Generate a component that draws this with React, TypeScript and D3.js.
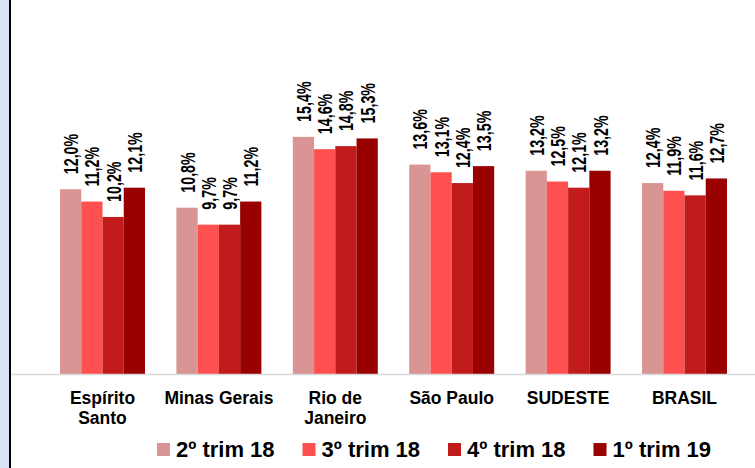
import React from 'react';
import * as d3 from 'd3';

const categories = ['Espírito Santo', 'Minas Gerais', 'Rio de Janeiro', 'São Paulo', 'SUDESTE', 'BRASIL'];
const categoryLines = [['Espírito', 'Santo'], ['Minas Gerais'], ['Rio de', 'Janeiro'], ['São Paulo'], ['SUDESTE'], ['BRASIL']];
const seriesNames = ['2º trim 18', '3º trim 18', '4º trim 18', '1º trim 19'];
const seriesColors = ['#d99594', '#ff5050', '#c21b1b', '#990000'];

const trim2_18 = [12.0, 10.8, 15.4, 13.6, 13.2, 12.4];
const trim3_18 = [11.2, 9.7, 14.6, 13.1, 12.5, 11.9];
const trim4_18 = [10.2, 9.7, 14.8, 12.4, 12.1, 11.6];
const trim1_19 = [12.1, 11.2, 15.3, 13.5, 13.2, 12.7];

const seriesValues = [trim2_18, trim3_18, trim4_18, trim1_19];

const W = 755;
const H = 468;
const baseline = 374;
const font = '"Liberation Sans", Arial, sans-serif';

export default function App() {
  const x0 = d3.scaleBand<string>()
    .domain(categories)
    .range([44.3, 742.7])
    .paddingInner(0.27)
    .paddingOuter(0.135);

  const x1 = d3.scaleBand<string>()
    .domain(seriesNames)
    .range([0, x0.bandwidth()])
    .padding(0);

  const y = d3.scaleLinear().domain([0, 24.29]).range([baseline, 0]);

  const fmt = (v: number) => v.toFixed(1).replace('.', ',') + '%';

  const legendStart = 157;
  const legendStep = 145.5;

  return (
    <div style={{ position: 'absolute', left: 0, top: 0 }}>
      <svg width={W} height={H} viewBox={`0 0 ${W} ${H}`} style={{ display: 'block', background: '#fff' }}>
        {/* left frame */}
        <rect x={0} y={0} width={9} height={H} fill="#dae3f3" />
        <rect x={9} y={0} width={2} height={H} fill="#000" />

        {/* bars */}
        {categories.map((cat, ci) => (
          <g key={cat} transform={`translate(${x0(cat)},0)`}>
            {seriesNames.map((s, si) => {
              const v = seriesValues[si][ci];
              const bx = x1(s) as number;
              return (
                <rect
                  key={s}
                  x={bx}
                  y={y(v)}
                  width={x1.bandwidth()}
                  height={baseline - y(v)}
                  fill={seriesColors[si]}
                />
              );
            })}
            {seriesNames.map((s, si) => {
              const v = seriesValues[si][ci];
              const cx = (x1(s) as number) + x1.bandwidth() / 2;
              return (
                <text
                  key={s}
                  transform={`translate(${cx},${y(v) - 15}) rotate(-90) scale(0.68,1)`}
                  dy="0.36em"
                  fontFamily={font}
                  fontWeight="bold"
                  fontSize={21}
                  fill="#000"
                >
                  {fmt(v)}
                </text>
              );
            })}
          </g>
        ))}

        {/* axis line */}
        <line x1={11} x2={W} y1={baseline + 0.5} y2={baseline + 0.5} stroke="#d9d9d9" strokeWidth={1.5} />

        {/* category labels */}
        {categories.map((cat, ci) => (
          <text
            key={cat}
            x={(x0(cat) as number) + x0.bandwidth() / 2}
            y={404}
            textAnchor="middle"
            fontFamily={font}
            fontWeight="bold"
            fontSize={17.5}
            fill="#000"
          >
            {categoryLines[ci].map((line, li) => (
              <tspan key={li} x={(x0(cat) as number) + x0.bandwidth() / 2} dy={li === 0 ? 0 : 20}>
                {line}
              </tspan>
            ))}
          </text>
        ))}

        {/* legend */}
        {seriesNames.map((s, si) => {
          const lx = legendStart + si * legendStep;
          return (
            <g key={s}>
              <rect x={lx} y={443} width={13} height={13} fill={seriesColors[si]} />
              <text x={lx + 19} y={457} fontFamily={font} fontWeight="bold" fontSize={22} fill="#000">
                {s}
              </text>
            </g>
          );
        })}
      </svg>
    </div>
  );
}
